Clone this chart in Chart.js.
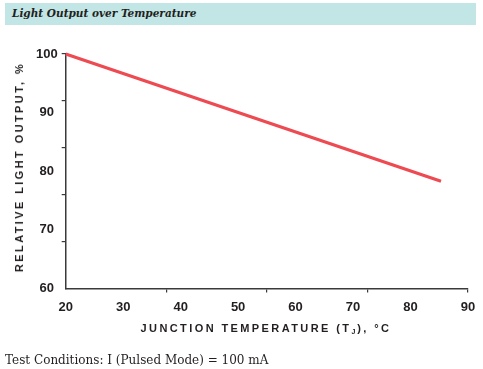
<!DOCTYPE html>
<html>
<head>
<meta charset="utf-8">
<script src="https://cdn.jsdelivr.net/npm/chart.js@4.4.1/dist/chart.umd.min.js"></script>
<style>
  body { margin: 0; width: 483px; height: 369px; background: #fff; position: relative; overflow: hidden; }
  #chart { position: absolute; left: 0; top: 0; }
  #head { position: absolute; left: 5px; top: 3px; width: 471px; height: 22px; background: #c2e5e5; }
  #head span { position: absolute; left: 7px; top: 4px; font: italic bold 10.5px "DejaVu Serif", serif; color: #231f20; white-space: nowrap; }
  .axt { position: absolute; font: bold 11px "Liberation Sans", Arial, sans-serif; letter-spacing: 2.4px; color: #231f20; white-space: nowrap; }
  #ytitle { left: 19px; top: 167px; transform: translate(-50%, -50%) rotate(-90deg); }
  #xtitle { left: 266px; top: 328px; transform: translate(-50%, -50%); }
  #xtitle sub { font-size: 7px; letter-spacing: 0; vertical-align: -2px; margin-right: 2px; }
  #foot { position: absolute; left: 5px; top: 353px; font: 12px "DejaVu Serif", serif; color: #231f20; white-space: nowrap; }
</style>
</head>
<body>
<div id="head"><span>Light Output over Temperature</span></div>
<canvas id="chart" width="483" height="369"></canvas>
<div class="axt" id="ytitle">RELATIVE LIGHT OUTPUT, %</div>
<div class="axt" id="xtitle">JUNCTION TEMPERATURE (T<sub>J</sub>), °C</div>
<div id="foot">Test Conditions: I (Pulsed Mode) = 100 mA</div>
<script>
// junction temperature (°C) and relative light output (%)
var temps = [20, 85.3];
var output = [100, 78.3];

// tick labels
var xLabels = [20, 30, 40, 50, 60, 70, 80, 90];
var yLabels = [60, 70, 80, 90, 100];
// tick marks in the original sit on their own spacing
var xMarks = [20, 37.5, 55, 72.5, 90];
var yMarks = [60, 68, 76, 84, 92, 100];

var axisColor = '#3a3a3a';
var labelFont = { family: '"Liberation Sans", Arial, sans-serif', size: 13, weight: 'bold' };

function setTicks(list) {
    return function(scale) {
        scale.ticks = list.map(function(v) { return { value: v }; });
    };
}
function markColor(c) {
    return c.index === 0 ? 'rgba(0,0,0,0)' : axisColor;
}

var ctx = document.getElementById('chart').getContext('2d');
var chart = new Chart(ctx, {
    type: 'line',
    data: {
        datasets: [{
            data: temps.map(function(t, i) { return { x: t, y: output[i] }; }),
            borderColor: '#ee4a52',
            borderWidth: 3.2,
            pointRadius: 0,
            tension: 0,
            clip: false,
            xAxisID: 'x',
            yAxisID: 'y'
        }]
    },
    options: {
        responsive: false,
        animation: false,
        devicePixelRatio: 1,
        layout: { padding: { left: 32, right: 15, top: 54, bottom: 47 } },
        plugins: { legend: { display: false }, tooltip: { enabled: false } },
        scales: {
            x: {
                type: 'linear', position: 'bottom', min: 20, max: 90, weight: 1,
                grid: { display: false, drawTicks: false }, border: { display: false },
                afterBuildTicks: setTicks(xLabels),
                ticks: { padding: 7, color: '#231f20', font: labelFont, maxRotation: 0, autoSkip: false }
            },
            xt: {
                type: 'linear', position: 'bottom', min: 20, max: 90, weight: 0,
                grid: { drawOnChartArea: false, tickLength: 4, color: markColor, lineWidth: 1.2 },
                border: { color: axisColor, width: 1.5 },
                afterBuildTicks: setTicks(xMarks),
                ticks: { display: false }
            },
            y: {
                type: 'linear', position: 'left', min: 60, max: 100, weight: 1,
                grid: { display: false, drawTicks: false }, border: { display: false },
                afterBuildTicks: setTicks(yLabels),
                ticks: { padding: 4, crossAlign: 'center', color: '#231f20', font: labelFont, autoSkip: false }
            },
            yt: {
                type: 'linear', position: 'left', min: 60, max: 100, weight: 0,
                grid: { drawOnChartArea: false, tickLength: 4, color: markColor, lineWidth: 1.2 },
                border: { color: axisColor, width: 1.5 },
                afterBuildTicks: setTicks(yMarks),
                ticks: { display: false }
            }
        }
    }
});
</script>
</body>
</html>
